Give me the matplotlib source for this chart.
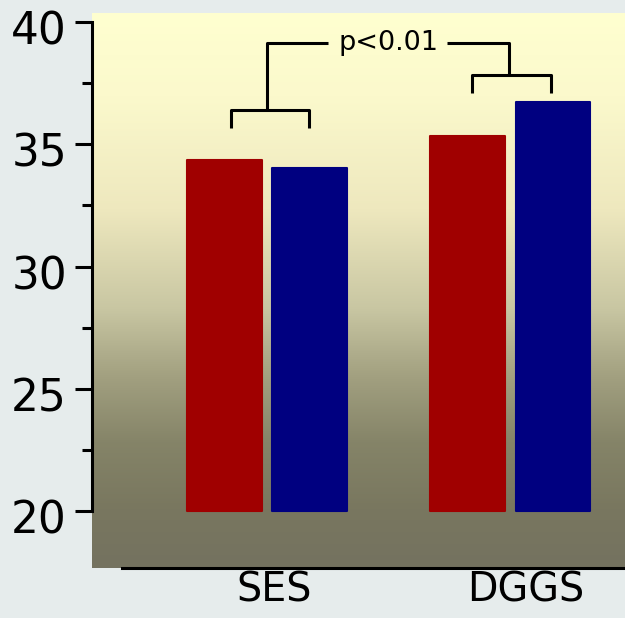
import matplotlib.pyplot as plt
import matplotlib.transforms as mtransforms
import numpy as np
from matplotlib.colors import LinearSegmentedColormap

# scores per group, two conditions each
groups = ["SES", "DGGS"]
first_vals = [34.36, 35.34]
second_vals = [34.03, 36.73]
base = 20
sig_label = "p<0.01"

fig = plt.figure(figsize=(6.25, 6.18), dpi=100, facecolor="#e6ecec")
ax = fig.add_axes([0.1472, 0.0809, 0.8528, 0.8981])

ymin, ymax = 17.67, 40.37
xmin, xmax = -0.72, 1.473
ax.set_xlim(xmin, xmax)
ax.set_ylim(ymin, ymax)

# vertical gradient backdrop
stops = [(0.0, "#747260"), (0.105, "#79775f"), (0.225, "#858468"),
         (0.344, "#a2a080"), (0.465, "#c8c6a2"), (0.645, "#eee8be"),
         (0.85, "#fbf9cc"), (1.0, "#ffffd0")]
cmap = LinearSegmentedColormap.from_list("bg", stops)
grad = np.linspace(0, 1, 256).reshape(-1, 1)
ax.imshow(grad, cmap=cmap, origin="lower", aspect="auto",
          extent=[xmin, xmax, ymin, ymax], zorder=0)

x = np.arange(len(groups))
w = 0.305
off = 0.175
for vals, col, sign in [(first_vals, "#a00000", -1), (second_vals, "#000080", 1)]:
    bars = ax.bar(x + sign * off, np.array(vals) - base, w, bottom=base,
                  color=col, edgecolor=col, linewidth=1.5, zorder=2)
    for b in bars:
        b.set_joinstyle("round")

# significance brackets
lw = 2.2
kw = dict(color="black", lw=lw, solid_capstyle="butt", zorder=3)
ax.plot([-0.148, -0.148, 0.173, 0.173], [35.66, 36.40, 36.40, 35.66], **kw)
ax.plot([0.844, 0.844, 1.169, 1.169], [37.10, 37.83, 37.83, 37.10], **kw)
ax.plot([0.0, 0.0, 0.251], [36.40, 39.14, 39.14], **kw)
ax.plot([0.741, 0.996, 0.996], [39.14, 39.14, 37.83], **kw)
ax.text(0.498, 39.14, sig_label, ha="center", va="center",
        fontsize=19.5, zorder=3)

for s in ["top", "right"]:
    ax.spines[s].set_visible(False)
ax.spines["left"].set_bounds(20, 40)
ax.spines["left"].set_linewidth(2.2)
ax.spines["bottom"].set_bounds(-0.597, xmax)
ax.spines["bottom"].set_linewidth(2.2)

ax.set_yticks([20, 25, 30, 35, 40])
ax.set_yticks(np.arange(22.5, 40, 5), minor=True)
ax.tick_params(axis="y", which="major", length=12, width=2.2,
               labelsize=31.5, pad=6)
ax.tick_params(axis="y", which="minor", length=7, width=2.2)
shift = mtransforms.ScaledTranslation(0, -4 / 72, fig.dpi_scale_trans)
for lab in ax.get_yticklabels():
    lab.set_transform(lab.get_transform() + shift)

# group labels sit a little right of the group centres
ax.set_xticks(x + np.array([0.03, 0.066]))
ax.set_xticklabels(groups)
ax.tick_params(axis="x", length=0, labelsize=28.5, pad=2)

fig.savefig("out.png", dpi=100, facecolor=fig.get_facecolor())
